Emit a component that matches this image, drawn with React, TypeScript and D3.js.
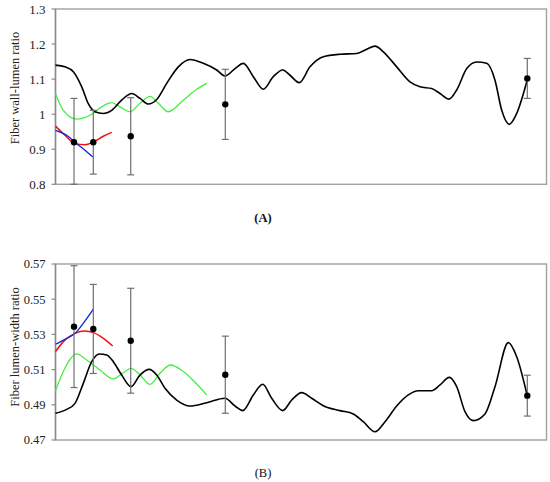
import React from "react";
import * as d3 from "d3";

type Pt = [number, number];

// shared horizontal position (no labels on the x axis)
const xDomain: [number, number] = [0, 100];
const sampleX = [3.77, 7.7, 15.32, 34.58, 96.09];

// (A) fiber wall-lumen ratio
const wallTicks = [0.8, 0.9, 1, 1.1, 1.2, 1.3];
const wallMean = [0.92, 0.92, 0.937, 1.028, 1.102];
const wallErr = [0.125, 0.091, 0.11, 0.1, 0.057];
const wallBlack: Pt[] = [
  [0, 1.14], [1.93, 1.135], [3.63, 1.121], [5.34, 1.078], [6.68, 1.03], [8.04, 1.007],
  [9.74, 1.002], [11.45, 1.011], [13.48, 1.04], [15.52, 1.059], [17.21, 1.045], [18.9, 1.029],
  [20.61, 1.042], [22.65, 1.088], [25.01, 1.135], [27.39, 1.156], [30.1, 1.145], [32.83, 1.126],
  [34.52, 1.109], [36.56, 1.13], [38.25, 1.145], [40.29, 1.107], [42.32, 1.071], [44.36, 1.107],
  [46.27, 1.126], [47.76, 1.111], [49.65, 1.09], [51.83, 1.135], [54.54, 1.164], [57.94, 1.171],
  [61.34, 1.173], [63.38, 1.185], [65.07, 1.194], [66.76, 1.178], [69.49, 1.135], [72.2, 1.092],
  [74.24, 1.078], [76.62, 1.073], [78.31, 1.059], [80.14, 1.043], [81.71, 1.069], [83.75, 1.13],
  [85.78, 1.149], [87.82, 1.145], [89.51, 1.097], [90.88, 1.011], [92.42, 0.971], [93.93, 1.002],
  [96.09, 1.098],
];
const wallGreen: Pt[] = [
  [0, 1.059], [1.59, 1.011], [4.32, 0.986], [7.03, 0.997], [9.41, 1.021], [11.45, 1.033],
  [13.14, 1.021], [15.17, 1.007], [17.21, 1.031], [19.25, 1.051], [20.94, 1.031], [22.97, 1.007],
  [26.03, 1.04], [28.76, 1.071], [30.79, 1.088],
];
const wallRed: Pt[] = [
  [0, 0.966], [1.93, 0.94], [3.97, 0.916], [6.01, 0.913], [7.71, 0.921], [9.74, 0.937], [11.45, 0.948],
];
const wallBlue: Pt[] = [
  [0, 0.954], [2.28, 0.94], [4.32, 0.916], [6.01, 0.897], [7.57, 0.878],
];

// (B) fiber lumen-width ratio
const lumenTicks = [0.47, 0.49, 0.51, 0.53, 0.55, 0.57];
const lumenMean = [0.5344, 0.5331, 0.5264, 0.5071, 0.4952];
const lumenErr = [0.0346, 0.0253, 0.0298, 0.0219, 0.0116];
const lumenBlack: Pt[] = [
  [0, 0.4852], [2.28, 0.4874], [3.97, 0.4908], [5.66, 0.5022], [7.37, 0.5145], [8.92, 0.5189],
  [10.43, 0.5183], [11.77, 0.5145], [13.48, 0.5069], [15.38, 0.5003], [17.21, 0.5069], [19.1, 0.5101],
  [20.61, 0.5069], [22.3, 0.4994], [24.68, 0.4927], [27.39, 0.4893], [30.79, 0.4912], [34.52, 0.4937],
  [36.56, 0.4893], [38.13, 0.4867], [40.29, 0.4956], [42.2, 0.5017], [44.03, 0.4937], [46.27, 0.4867],
  [48.11, 0.4927], [50.14, 0.4969], [52.18, 0.4937], [54.54, 0.4895], [57.94, 0.4867], [60.65, 0.4848],
  [62.69, 0.4804], [65.07, 0.4747], [67.11, 0.4804], [69.49, 0.4893], [71.85, 0.4956], [73.89, 0.498],
  [76.62, 0.498], [78.31, 0.5013], [80.2, 0.5056], [81.71, 0.5003], [83.4, 0.4861], [85.09, 0.481],
  [87.47, 0.4848], [89.51, 0.5003], [92.22, 0.5253], [93.93, 0.5173], [96.09, 0.495],
];
const lumenGreen: Pt[] = [
  [0, 0.498], [1.59, 0.5089], [2.95, 0.5158], [4.32, 0.5189], [6.35, 0.5155], [9.06, 0.5098],
  [11.77, 0.5047], [13.81, 0.5082], [15.38, 0.5107], [17.21, 0.507], [19.25, 0.5016], [21.28, 0.5079],
  [23.46, 0.5126], [26.03, 0.5089], [28.76, 0.5018], [30.79, 0.4956],
];
const lumenRed: Pt[] = [
  [0, 0.5202], [1.59, 0.5259], [3.97, 0.5306], [6.01, 0.5319], [7.71, 0.531], [9.74, 0.5278], [11.65, 0.5234],
];
const lumenBlue: Pt[] = [
  [0, 0.5244], [1.93, 0.5272], [3.97, 0.5306], [5.66, 0.5363], [7.71, 0.5443],
];

const FONT = "'Liberation Serif', 'Times New Roman', serif";
const LEFT = 55.5;
const RIGHT = 546.5;

interface PanelProps {
  top: number;
  bottom: number;
  ticks: number[];
  title: string;
  titleY: number;
  label: string;
  labelY: number;
  labelBold: boolean;
  tickFont: number;
  black: Pt[];
  green: Pt[];
  red: Pt[];
  blue: Pt[];
  mean: number[];
  err: number[];
}

const Panel: React.FC<PanelProps> = ({
  top, bottom, ticks, title, titleY, label, labelY, labelBold, tickFont,
  black, green, red, blue, mean, err,
}) => {
  const lo = ticks[0];
  const hi = ticks[ticks.length - 1];
  const x = d3.scaleLinear().domain(xDomain).range([LEFT, RIGHT]);
  const y = d3.scaleLinear().domain([lo, hi]).range([bottom, top]);
  const line = d3
    .line<Pt>()
    .x((d) => x(d[0]))
    .y((d) => y(d[1]))
    .curve(d3.curveMonotoneX);

  return (
    <g>
      {/* plot frame */}
      <rect x={LEFT} y={top} width={RIGHT - LEFT} height={bottom - top}
        fill="none" stroke="#a0a0a0" strokeWidth={1.4} />
      <line x1={LEFT} x2={LEFT} y1={top} y2={bottom} stroke="#8a8a8a" strokeWidth={1.4} />
      {ticks.map((t) => (
        <g key={t}>
          <line x1={LEFT - 4} x2={LEFT} y1={y(t)} y2={y(t)} stroke="#8a8a8a" strokeWidth={1.2} />
          <text x={LEFT - 10} y={y(t)} dy="0.35em" textAnchor="end"
            fontFamily={FONT} fontSize={tickFont} fill="#222">{String(t)}</text>
        </g>
      ))}
      <text transform={`translate(15,${titleY}) rotate(-90)`} textAnchor="middle" dy="0.35em"
        fontFamily={FONT} fontSize={12.5} fill="#222">{title}</text>

      {/* series */}
      <path d={line(green) || ""} fill="none" stroke="#44ee44" strokeWidth={1.3} />
      <path d={line(red) || ""} fill="none" stroke="#ee1111" strokeWidth={1.5} />
      <path d={line(blue) || ""} fill="none" stroke="#1122dd" strokeWidth={1.3} />
      <path d={line(black) || ""} fill="none" stroke="#000" strokeWidth={1.6} />

      {/* means with error bars */}
      {mean.map((m, i) => {
        const cx = x(sampleX[i]);
        const y1 = y(Math.min(hi, m + err[i]));
        const y2 = y(Math.max(lo, m - err[i]));
        return (
          <g key={i}>
            <line x1={cx} x2={cx} y1={y1} y2={y2} stroke="#6f6f6f" strokeWidth={1.2} />
            <line x1={cx - 3.5} x2={cx + 3.5} y1={y1} y2={y1} stroke="#6f6f6f" strokeWidth={1.2} />
            <line x1={cx - 3.5} x2={cx + 3.5} y1={y2} y2={y2} stroke="#6f6f6f" strokeWidth={1.2} />
            <circle cx={cx} cy={y(m)} r={3.2} fill="#000" />
          </g>
        );
      })}

      <text x={263} y={labelY} textAnchor="middle" fontFamily={FONT} fontSize={12.5}
        fontWeight={labelBold ? "bold" : "normal"} fill="#111">{label}</text>
    </g>
  );
};

export default function App() {
  return (
    <svg width={550} height={482} style={{ position: "absolute", left: 0, top: 0, background: "#fff" }}>
      <rect width={550} height={482} fill="#fff" />
      <Panel top={9} bottom={184.3} ticks={wallTicks} title="Fiber wall-lumen ratio" titleY={88}
        label="(A)" labelY={222} labelBold tickFont={13}
        black={wallBlack} green={wallGreen} red={wallRed} blue={wallBlue}
        mean={wallMean} err={wallErr} />
      <Panel top={264} bottom={440} ticks={lumenTicks} title="Fiber lumen-width ratio" titleY={347}
        label="(B)" labelY={477} labelBold={false} tickFont={12.5}
        black={lumenBlack} green={lumenGreen} red={lumenRed} blue={lumenBlue}
        mean={lumenMean} err={lumenErr} />
    </svg>
  );
}
